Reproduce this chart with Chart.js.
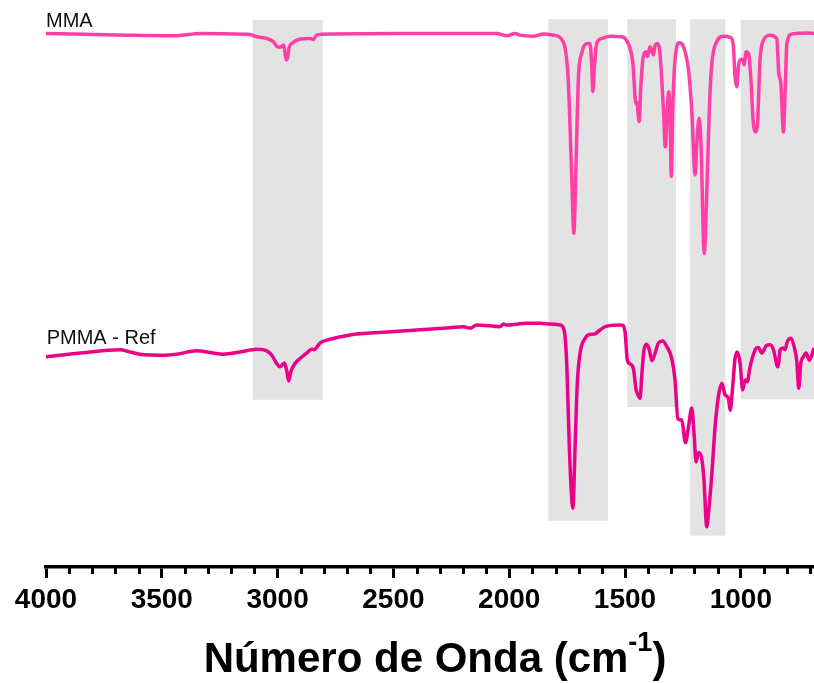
<!DOCTYPE html>
<html>
<head>
<meta charset="utf-8">
<title>FTIR MMA / PMMA</title>
<script src="https://cdn.jsdelivr.net/npm/chart.js@4/dist/chart.umd.min.js"></script>
<style>
  html, body { margin: 0; padding: 0; background: #ffffff; }
  canvas { display: block; }
</style>
</head>
<body>
<canvas id="ftir" width="814" height="683"></canvas>
<script>
// FTIR spectra, transmittance (offset, arbitrary units) vs wavenumber (cm-1)
const mmaWavenumber = [4000, 3650, 3436, 3335, 3119, 3090, 3047, 3018, 3004, 2990, 2975, 2961, 2949, 2939, 2903, 2860, 2846, 2832, 2774, 2485, 2199, 2054, 2010, 1975, 1953, 1896, 1852, 1811, 1767, 1746, 1730, 1721, 1711, 1701, 1687, 1665, 1651, 1643, 1639, 1632, 1622, 1600, 1564, 1514, 1490, 1466, 1453, 1449, 1439, 1431, 1421, 1409, 1403, 1392, 1383, 1377, 1370, 1360, 1349, 1334, 1326, 1318, 1311, 1305, 1300, 1294, 1284, 1265, 1248, 1226, 1212, 1197, 1190, 1180, 1172, 1158, 1147, 1136, 1125, 1104, 1075, 1046, 1032, 1025, 1017, 1010, 1003, 991, 986, 977, 967, 957, 946, 938, 928, 917, 902, 873, 845, 836, 827, 816, 809, 801, 780, 715, 684];
const mmaTransmittance = [97.0, 96.7, 96.6, 97.0, 96.8, 96.4, 96.1, 95.5, 94.7, 94.5, 94.9, 92.2, 94.6, 95.2, 96.0, 96.1, 95.9, 96.7, 96.9, 97.0, 97.0, 97.0, 96.6, 97.0, 96.7, 96.5, 96.9, 96.7, 95.5, 89.1, 71.0, 60.7, 74.0, 89.1, 93.4, 95.2, 95.2, 90.4, 86.4, 91.0, 95.2, 96.1, 96.5, 96.4, 95.5, 91.6, 84.2, 84.5, 81.0, 87.9, 92.8, 93.7, 92.8, 94.6, 93.7, 93.1, 94.9, 95.2, 93.4, 83.1, 76.4, 83.1, 86.4, 80.1, 71.0, 83.1, 92.2, 95.3, 94.6, 90.4, 83.1, 71.3, 77.0, 81.6, 77.0, 57.0, 67.9, 83.1, 91.6, 95.5, 96.5, 96.3, 94.6, 89.1, 87.3, 91.0, 92.2, 92.3, 91.3, 93.7, 93.4, 89.1, 80.7, 79.1, 80.7, 92.2, 95.8, 96.7, 96.1, 89.8, 87.9, 79.1, 86.1, 95.2, 96.9, 97.1, 97.0];

const pmmaWavenumber = [4000, 3853, 3680, 3637, 3594, 3493, 3436, 3349, 3292, 3234, 3162, 3090, 3047, 3025, 3004, 2990, 2971, 2961, 2952, 2943, 2925, 2903, 2874, 2853, 2843, 2817, 2774, 2687, 2543, 2399, 2255, 2198, 2169, 2140, 2040, 2025, 2011, 1924, 1867, 1824, 1780, 1763, 1751, 1740, 1725, 1716, 1706, 1694, 1672, 1658, 1629, 1608, 1579, 1514, 1500, 1490, 1478, 1464, 1452, 1447, 1435, 1428, 1418, 1406, 1395, 1384, 1370, 1356, 1337, 1320, 1298, 1284, 1272, 1255, 1239, 1226, 1212, 1202, 1193, 1183, 1168, 1159, 1147, 1137, 1125, 1111, 1097, 1082, 1068, 1054, 1046, 1035, 1025, 1015, 1003, 992, 981, 972, 960, 938, 924, 909, 891, 873, 859, 840, 830, 819, 809, 799, 784, 770, 758, 750, 741, 730, 718, 704, 684];
const pmmaTransmittance = [38.2, 38.9, 39.5, 39.1, 38.7, 38.5, 38.7, 39.3, 39.0, 38.7, 39.1, 39.6, 39.3, 38.5, 37.0, 36.4, 37.1, 35.8, 33.8, 35.5, 37.0, 37.9, 38.9, 39.6, 39.5, 40.7, 41.4, 42.2, 42.7, 43.1, 43.5, 43.7, 43.4, 44.0, 43.7, 44.2, 44.0, 44.3, 44.3, 44.2, 44.0, 43.1, 36.4, 21.3, 10.7, 21.3, 33.4, 38.9, 41.6, 42.2, 42.4, 43.1, 43.8, 44.0, 42.8, 37.6, 36.9, 36.1, 32.2, 31.6, 30.7, 34.6, 39.5, 40.5, 39.5, 37.5, 38.9, 40.7, 41.1, 40.1, 37.9, 34.0, 27.0, 26.7, 22.6, 25.5, 28.9, 24.3, 19.1, 20.8, 19.5, 15.8, 7.3, 11.0, 17.0, 25.5, 31.0, 33.4, 31.3, 30.7, 28.5, 32.8, 37.9, 39.1, 37.0, 32.2, 34.0, 33.7, 36.4, 39.5, 39.9, 38.9, 40.2, 40.4, 39.5, 36.4, 39.5, 39.8, 39.5, 41.0, 41.6, 40.1, 37.3, 32.5, 37.0, 38.2, 38.9, 37.6, 39.8];

// Highlighted absorption bands (wavenumber range and vertical extent)
const bandFrom = [3107, 1831, 1490, 1219, 1000];
const bandTo   = [2805, 1573, 1280, 1067, 600];
const bandLow  = [30.4, 8.4, 29.1, 5.7, 30.5];
const bandHigh = [99.5, 99.6, 99.6, 99.6, 99.5];

// Axis ticks: every 100 cm-1, labelled every 500 cm-1
const tickValues = [];
for (let v = 4000; v >= 700; v -= 100) tickValues.push(v);

const seriesNames = ['MMA', 'PMMA - Ref'];

const toPoints = (xs, ys) => xs.map((x, i) => ({ x: x, y: ys[i] }));

const FONT = "'Liberation Sans', Arial, Helvetica, sans-serif";

const bandsPlugin = {
  id: 'bands',
  beforeDatasetsDraw(chart) {
    const { ctx, chartArea, scales } = chart;
    const xs = scales.x, ys = scales.y;
    ctx.save();
    ctx.beginPath();
    ctx.rect(chartArea.left, 0, chart.width - chartArea.left, chartArea.bottom);
    ctx.clip();
    ctx.fillStyle = '#e3e3e3';
    for (let i = 0; i < bandFrom.length; i++) {
      const x1 = xs.getPixelForValue(bandFrom[i]);
      const x2 = xs.getPixelForValue(bandTo[i]);
      const y1 = ys.getPixelForValue(bandHigh[i]);
      const y2 = ys.getPixelForValue(bandLow[i]);
      ctx.fillRect(Math.min(x1, x2), y1, Math.abs(x2 - x1), y2 - y1);
    }
    ctx.restore();
  }
};

const annotationsPlugin = {
  id: 'annotations',
  afterDraw(chart) {
    const { ctx, chartArea, scales } = chart;
    const xs = scales.x, ys = scales.y;
    ctx.save();

    // minor ticks
    ctx.strokeStyle = '#000';
    ctx.lineWidth = 3;
    tickValues.forEach(v => {
      if (v % 500 === 0) return;
      const x = Math.round(xs.getPixelForValue(v)) + 0.5;
      ctx.beginPath();
      ctx.moveTo(x, chartArea.bottom);
      ctx.lineTo(x, chartArea.bottom + 7);
      ctx.stroke();
    });

    // series names
    ctx.fillStyle = '#111';
    ctx.font = '20px ' + FONT;
    ctx.textAlign = 'left';
    ctx.textBaseline = 'alphabetic';
    ctx.fillText(seriesNames[0], xs.getPixelForValue(4000), ys.getPixelForValue(98.1));
    ctx.fillText(seriesNames[1], xs.getPixelForValue(3997), ys.getPixelForValue(40.5));

    // axis title with superscript unit
    const main = 'Número de Onda (cm';
    const sup = '-1';
    const close = ')';
    const bigFont = 'bold 42px ' + FONT;
    const supFont = 'bold 27px ' + FONT;
    ctx.fillStyle = '#000';
    ctx.font = bigFont;
    const wMain = ctx.measureText(main).width;
    const wClose = ctx.measureText(close).width;
    ctx.font = supFont;
    const wSup = ctx.measureText(sup).width;
    const total = wMain + wSup + wClose;
    const cx = (chartArea.left + chartArea.right) / 2 + 5;
    const base = 672;
    let x = cx - total / 2;
    ctx.font = bigFont;
    ctx.fillText(main, x, base);
    x += wMain;
    ctx.font = supFont;
    ctx.fillText(sup, x, base - 21);
    x += wSup;
    ctx.font = bigFont;
    ctx.fillText(close, x, base);
    ctx.restore();
  }
};

new Chart(document.getElementById('ftir'), {
  type: 'line',
  data: {
    datasets: [
      {
        label: seriesNames[0],
        data: toPoints(mmaWavenumber, mmaTransmittance),
        borderColor: '#ff3fa6',
        borderWidth: 3.5,
        pointRadius: 0,
        cubicInterpolationMode: 'monotone',
        fill: false
      },
      {
        label: seriesNames[1],
        data: toPoints(pmmaWavenumber, pmmaTransmittance),
        borderColor: '#ec0089',
        borderWidth: 3.5,
        pointRadius: 0,
        cubicInterpolationMode: 'monotone',
        fill: false
      }
    ]
  },
  options: {
    responsive: false,
    devicePixelRatio: 1,
    animation: false,
    layout: { padding: { left: 46, top: 17, right: 0, bottom: 0 } },
    plugins: { legend: { display: false }, tooltip: { enabled: false }, title: { display: false } },
    scales: {
      x: {
        type: 'linear',
        reverse: true,
        min: 684,
        max: 4000,
        afterBuildTicks(scale) {
          scale.ticks = tickValues.map(v => ({ value: v }));
        },
        afterFit(scale) {
          scale.height = 116;
          scale.paddingRight = 0;
        },
        border: { display: true, color: '#000', width: 3.5 },
        grid: {
          display: true,
          drawOnChartArea: false,
          drawTicks: true,
          tickLength: 11,
          tickWidth: 3,
          tickColor: ctx => (ctx.tick && ctx.tick.value % 500 === 0) ? '#000' : 'rgba(0,0,0,0)'
        },
        ticks: {
          autoSkip: false,
          maxRotation: 0,
          minRotation: 0,
          padding: 5,
          color: '#000',
          font: { family: FONT, size: 28, weight: 'bold' },
          callback: v => (v % 500 === 0 ? String(v) : '')
        }
      },
      y: {
        type: 'linear',
        display: false,
        min: 0,
        max: 100
      }
    }
  },
  plugins: [bandsPlugin, annotationsPlugin]
});
</script>
</body>
</html>
